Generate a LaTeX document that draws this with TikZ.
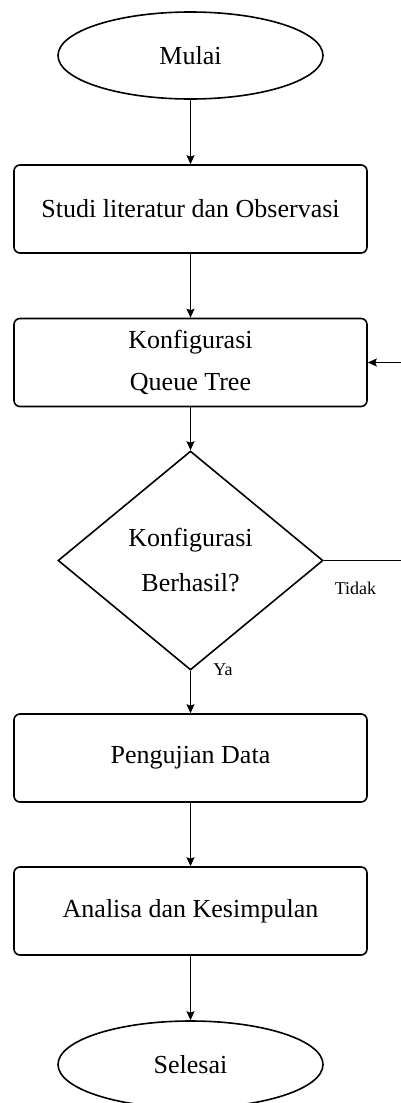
\documentclass[tikz,border=0pt]{standalone}
\usepackage{fontspec}
\setmainfont{Liberation Serif}
\usepackage{tikz}
\usetikzlibrary{arrows.meta,positioning,shapes.geometric}

\begin{document}
\begin{tikzpicture}[x=1pt,y=-1pt,>={Stealth[length=9pt,width=8pt,inset=1.5pt]},
 terminal/.style={ellipse,draw,line width=1.6pt,inner sep=0pt,minimum width=265pt,minimum height=87pt,font=\fontsize{26}{42}\selectfont},
 process/.style={rectangle,draw,rounded corners=6pt,line width=1.6pt,inner sep=0pt,minimum width=353pt,minimum height=88pt,align=center,font=\fontsize{26}{42}\selectfont},
 decision/.style={diamond,draw,line width=1.6pt,inner sep=0pt,aspect=1.21,minimum width=265pt,minimum height=219pt,align=center,font=\fontsize{26}{45}\selectfont},
 flow/.style={->,line width=1pt},
 note/.style={font=\fontsize{18}{20}\selectfont}]
 \useasboundingbox (0,0) rectangle (401,1103);
 \node[terminal] (mulai) at (190.5,55.5) {Mulai};
 \node[process] (studi) at (190.5,209) {Studi literatur dan Observasi};
 \node[process] (konf) at (190.5,362.5) {Konfigurasi\\Queue Tree};
 \node[decision] (cek) at (190.5,560.5) {Konfigurasi\\Berhasil?};
 \node[process] (uji) at (190.5,758) {Pengujian Data};
 \node[process] (analisa) at (190.5,911) {Analisa dan Kesimpulan};
 \node[terminal] (selesai) at (190.5,1064.5) {Selesai};
 \draw[flow] (mulai) -- (studi);
 \draw[flow] (studi) -- (konf);
 \draw[flow] (konf) -- (cek);
 \draw[flow] (cek) -- (uji);
 \draw[flow] (uji) -- (analisa);
 \draw[flow] (analisa) -- (selesai);
 \draw[flow] (cek.east) -- ++(90,0) |- (konf.east);
 \node[note] (tidak) at (355.5,588) {Tidak};
 \node[note] (ya) at (223,670) {Ya};
\end{tikzpicture}
\end{document}
